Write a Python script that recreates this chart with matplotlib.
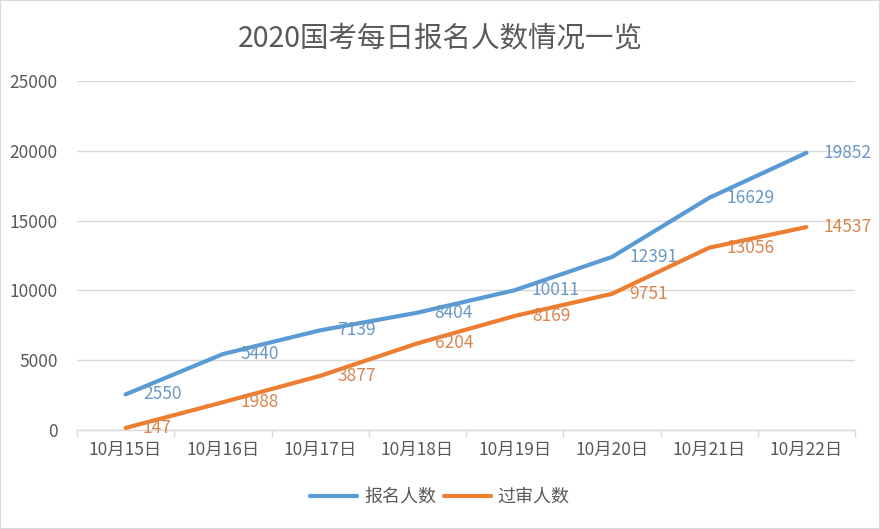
import matplotlib
matplotlib.use("Agg")
import matplotlib.pyplot as plt
from matplotlib.patches import Rectangle

plt.rcParams['font.family'] = ['Noto Sans CJK SC', 'DejaVu Sans']

title = "2020国考每日报名人数情况一览"
categories = ["10月15日", "10月16日", "10月17日", "10月18日", "10月19日", "10月20日", "10月21日", "10月22日"]
series_names = ["报名人数", "过审人数"]
registered = [2550, 5440, 7139, 8404, 10011, 12391, 16629, 19852]
approved = [147, 1988, 3877, 6204, 8169, 9751, 13056, 14537]
yticks = [0, 5000, 10000, 15000, 20000, 25000]

colors = ["#5B9BD5", "#ED7D31"]
label_colors = ["#6A98C4", "#D9864F"]
text_color = "#595959"
grid_color = "#D9D9D9"

fig = plt.figure(figsize=(8.8, 5.29), dpi=100)
ax = fig.add_axes([77/880, 1-430/529, (855-77)/880, (430-81)/529])

x = list(range(len(categories)))
for vals, name, c, lc in zip([registered, approved], series_names, colors, label_colors):
    ax.plot(x, vals, color=c, lw=3, solid_capstyle='round', label=name, zorder=3)
    for xi, v in zip(x, vals):
        ax.annotate(str(v), (xi, v), xytext=(12.5, 0), textcoords='offset points',
                    ha='left', va='center', color=lc, fontsize=12.5, zorder=4)

ax.set_xlim(-0.5, len(categories) - 0.5)
ax.set_ylim(0, 25000)
ax.set_yticks(yticks)
ax.set_yticklabels([str(t) for t in yticks], color=text_color, fontsize=12.5)
ax.set_xticks(x)
ax.set_xticklabels(categories, color=text_color, fontsize=12.5)
ax.tick_params(axis='y', length=0, pad=14)
ax.tick_params(axis='x', length=0, pad=8)
# boundary tick marks
ax.set_xticks([i - 0.5 for i in range(len(categories) + 1)], minor=True)
ax.tick_params(axis='x', which='minor', length=5, color=grid_color, width=1)

ax.grid(axis='y', color=grid_color, lw=1)
ax.set_axisbelow(True)
for s in ['top', 'right', 'left']:
    ax.spines[s].set_visible(False)
ax.spines['bottom'].set_color(grid_color)
ax.spines['bottom'].set_linewidth(1)

fig.text(0.5, 1-38/529, title, ha='center', va='center', fontsize=20.5, color=text_color)

leg = fig.legend(loc='center', bbox_to_anchor=(0.5, 1-497/529), ncol=2, frameon=False,
                 fontsize=13, handlelength=2.6, columnspacing=0.4, handletextpad=0.4)
for t in leg.get_texts():
    t.set_color(text_color)

fig.patches.append(Rectangle((0, 0), 1, 1, transform=fig.transFigure, fill=False,
                             edgecolor=grid_color, lw=1.5))

fig.savefig("out.png", dpi=100)
